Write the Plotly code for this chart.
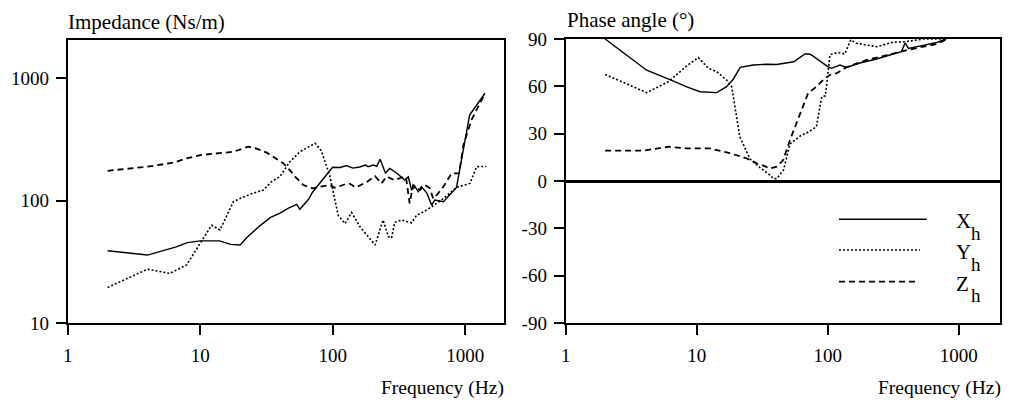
import plotly.graph_objects as go

W, H = 1012, 400
FONT = "Liberation Serif"

# ---------------- Impedance (Ns/m) ----------------
imp_x_freq = [2, 4, 6.6, 8, 10, 14, 17, 20, 22.5, 24, 28, 34, 40, 46, 53.5, 56.5, 60, 66, 70, 80, 88,
              100, 114, 127, 142, 160, 177, 185, 203, 215, 228, 250, 270, 305, 330, 350, 372, 394,
              418, 442, 467, 514, 558, 590, 685, 860, 1080, 1410]
imp_x_val = [39, 36, 42, 45.5, 47, 47, 44, 43.5, 50, 53.5, 62, 73, 79, 86.5, 93, 85, 92, 103, 116, 140, 158,
             187, 186, 193, 184, 188, 195, 189, 195, 190, 217, 168, 183, 167, 156, 147, 156, 122,
             130, 118, 130, 115, 92, 101, 98, 128, 498, 750]

imp_y_freq = [2, 4, 5.9, 7.9, 10, 12.2, 14.1, 17.8, 21.2, 24, 30, 34.6, 40, 47.5, 56.5, 73.5, 82, 95,
              110, 124, 139, 161, 209, 240, 263, 278, 294, 330, 372, 394, 430, 485, 558, 685, 860,
              1085, 1220, 1440]
imp_y_val = [19.6, 27.6, 25.5, 29.9, 44.9, 63, 57.6, 98, 107, 113, 122, 143, 157, 207, 250, 293, 255, 160,
             76, 65, 80, 61, 43.5, 69.5, 50.8, 49.5, 66.5, 69.5, 67, 66, 76, 81, 89, 104, 128,
             138, 189, 190]

imp_z_freq = [2, 4, 6.3, 7.9, 10, 14.1, 17.8, 23, 26, 31.8, 42.5, 47.5, 52, 60, 71, 80, 95, 104, 124,
              135, 150, 181, 209, 234, 254, 294, 350, 360, 381, 405, 455, 497, 542, 573, 610, 685,
              790, 900, 970, 1115, 1410]
imp_z_val = [175, 189, 204, 221, 235, 243, 250, 275, 268, 246, 201, 177, 157, 134, 126, 130, 134, 127, 136,
             137, 128, 142, 158, 138, 157, 147, 157, 147, 95, 134, 122, 134, 126, 104, 111, 130,
             167, 167, 284, 454, 748]

# ---------------- Phase angle (deg) ----------------
ph_x_freq = [2, 4.15, 6.25, 8.4, 10.6, 14.2, 16.9, 19, 21.5, 27, 34, 40.8, 55, 67, 72, 75, 100, 107,
             124, 139, 176, 236, 316, 365, 390, 413, 535, 680, 800]
ph_x_val = [90, 70.2, 64.2, 59.6, 56.6, 56, 59.8, 64.5, 72, 73.5, 74, 73.8, 75.6, 80.5, 80.5, 79.9, 72.5, 71.4,
            73.5, 72, 74.8, 77.3, 80.5, 82, 87.5, 84, 86, 87.8, 90]

ph_y_freq = [2, 4.15, 6.1, 8.4, 10.3, 12.3, 14.2, 16.9, 18.5, 21.3, 25.5, 30.4, 36.2, 38.5, 40.8, 46,
             51.5, 61.6, 73, 82, 90, 96, 104, 120, 135, 150, 166, 236, 316, 390, 535, 800]
ph_y_val = [67.5, 56, 63, 73, 78.2, 71.4, 69.3, 64, 59.8, 28.1, 14, 8.5, 3.8, 1.5, 1.5, 7,
            23.5, 28.5, 31.5, 34.4, 53.4, 54, 80, 81.5, 80.5, 89.5, 87.3, 85.1, 88, 88.3, 90, 90]

ph_z_freq = [2, 3.9, 6.1, 8.4, 12.6, 17.9, 24, 28.7, 32, 36.2, 40.8, 45.7, 51.5, 61.6, 70.8, 82, 95,
             104, 117, 139, 198, 265, 356, 405, 505, 680, 815]
ph_z_val = [19.2, 19.2, 21.7, 20.7, 20.7, 17.6, 14.4, 11.2, 9.9, 8, 9.1, 13.3, 26, 42.9, 55.6, 59.8, 65,
            67.2, 68.3, 72.1, 76.7, 79.2, 82, 83, 84.7, 86.8, 90]

x_tickvals = [1, 10, 100, 1000]
x_ticktext = ["1", "10", "100", "1000"]
imp_tickvals = [10, 100, 1000]
imp_ticktext = ["10", "100", "1000"]
ph_tickvals = [-90, -60, -30, 0, 30, 60, 90]
ph_ticktext = ["-90", "-60", "-30", "0", "30", "60", "90"]

legend_names = ["X", "Y", "Z"]

SOLID = dict(color="black", width=1.4)
DOT = dict(color="black", width=1.6, dash="2px,2px")
DASH = dict(color="black", width=1.8, dash="6px,4px")

fig = go.Figure()
for f, v, ln in [(imp_x_freq, imp_x_val, SOLID), (imp_y_freq, imp_y_val, DOT), (imp_z_freq, imp_z_val, DASH)]:
    fig.add_trace(go.Scatter(x=f, y=v, mode="lines", line=ln, xaxis="x", yaxis="y", showlegend=False))
for f, v, ln in [(ph_x_freq, ph_x_val, SOLID), (ph_y_freq, ph_y_val, DOT), (ph_z_freq, ph_z_val, DASH)]:
    fig.add_trace(go.Scatter(x=f, y=v, mode="lines", line=ln, xaxis="x2", yaxis="y2", showlegend=False))

common = dict(showline=True, linecolor="black", linewidth=2, mirror=True, ticks="outside",
              ticklen=10, tickwidth=2, tickcolor="black", showgrid=False, zeroline=False,
              automargin=False, tickfont=dict(family=FONT, size=19, color="black"))

fig.update_layout(
    width=W, height=H, margin=dict(l=0, r=0, t=0, b=0, autoexpand=False),
    paper_bgcolor="white", plot_bgcolor="white", showlegend=False,
    font=dict(family=FONT, color="black"),
    xaxis=dict(domain=[67.7 / W, 504 / W], type="log", range=[0, 3.293], anchor="y",
               tickvals=x_tickvals, ticktext=x_ticktext, ticklabelstandoff=4, **common),
    yaxis=dict(domain=[1 - 323.3 / H, 1 - 40 / H], type="log", range=[1, 3.309], anchor="x",
               tickvals=imp_tickvals, ticktext=imp_ticktext, ticklabelstandoff=3, **common),
    xaxis2=dict(domain=[565.7 / W, 1000 / W], type="log", range=[0, 3.315], anchor="y2",
                tickvals=x_tickvals, ticktext=x_ticktext, ticklabelstandoff=4, **common),
    yaxis2=dict(domain=[1 - 323 / H, 1 - 39 / H], range=[-90, 90], anchor="x2",
                tickvals=ph_tickvals, ticktext=ph_ticktext, ticklabelstandoff=3, **common),
)
fig.layout.yaxis2.zeroline = True
fig.layout.yaxis2.zerolinecolor = "black"
fig.layout.yaxis2.zerolinewidth = 3

TF = dict(family=FONT, size=21, color="black")
FF = dict(family=FONT, size=19.5, color="black")
ann = [
    dict(text="Impedance (Ns/m)", x=66 / W, y=1 - 22 / H, xanchor="left", yanchor="middle"),
    dict(text="Phase angle (°)", x=565 / W, y=1 - 20 / H, xanchor="left", yanchor="middle"),
    dict(text="Frequency (Hz)", x=506 / W, y=1 - 388 / H, xanchor="right", yanchor="middle", font=FF),
    dict(text="Frequency (Hz)", x=1003 / W, y=1 - 388 / H, xanchor="right", yanchor="middle", font=FF),
]
# legend keys
leg_y = [219.3, 250, 281.7]
leg_x1 = [926.7, 920, 918]
leg_styles = [SOLID, DOT, DASH]
shapes = []
for name, yy, x1, st in zip(legend_names, leg_y, leg_x1, leg_styles):
    shapes.append(dict(type="line", xref="paper", yref="paper", x0=839 / W, x1=x1 / W,
                       y0=1 - yy / H, y1=1 - yy / H, line=st))
    ann.append(dict(text=name, x=954 / W, y=1 - (yy + 2) / H, xanchor="left", yanchor="middle"))
    ann.append(dict(text="h", x=969 / W, y=1 - (yy + 14) / H, xanchor="left", yanchor="middle",
                    font=dict(family=FONT, size=19, color="black")))
for a in ann:
    a.setdefault("font", TF)
    a.update(xref="paper", yref="paper", showarrow=False)
fig.update_layout(annotations=ann, shapes=shapes)

fig.write_html("out.html")
